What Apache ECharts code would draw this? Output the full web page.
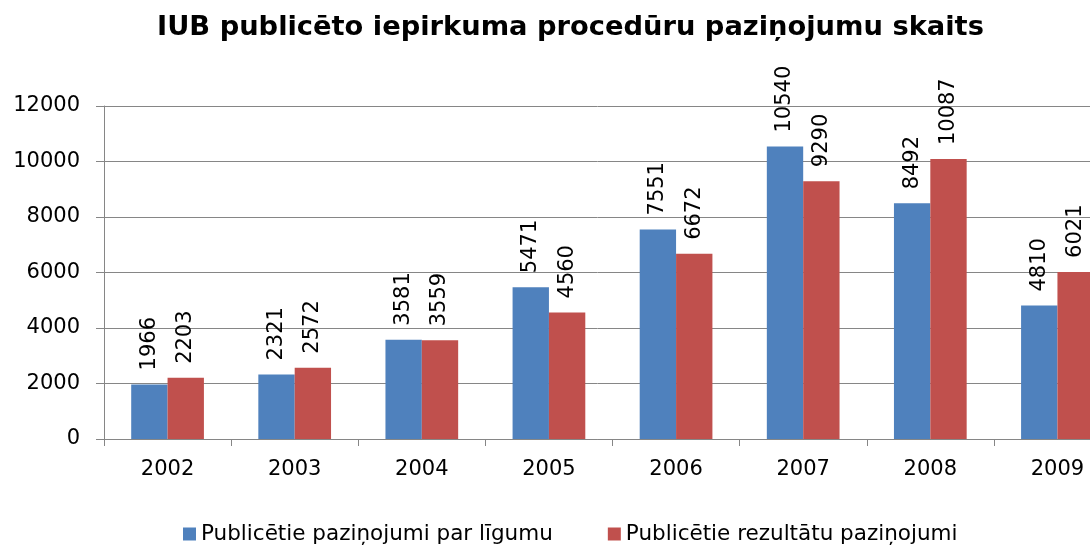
<!DOCTYPE html>
<html>
<head>
<meta charset="utf-8">
<script src="https://cdn.jsdelivr.net/npm/echarts@6/dist/echarts.min.js"></script>
<style>html,body{margin:0;padding:0;background:#fff}#c{width:1090px;height:550px}</style>
</head>
<body>
<div id="c"></div>
<script>
const titleText = 'IUB publicēto iepirkuma procedūru paziņojumu skaits';
const years = ['2002','2003','2004','2005','2006','2007','2008','2009'];
const seriesNames = ['Publicētie paziņojumi par līgumu','Publicētie rezultātu paziņojumi'];
const contractNotices = [1966, 2321, 3581, 5471, 7551, 10540, 8492, 4810];
const resultNotices = [2203, 2572, 3559, 4560, 6672, 9290, 10087, 6021];

const FONT = 'DejaVu Sans';
const chart = echarts.init(document.getElementById('c'), null, {renderer:'canvas'});
const lbl = {
  show: true, position: 'top', rotate: 90, distance: 14,
  align: 'left', verticalAlign: 'middle',
  fontFamily: FONT, fontSize: 21, color: '#000'
};
chart.setOption({
  animation: false,
  backgroundColor: '#fff',
  title: {
    text: titleText, left: 152, top: 9,
    textStyle: {fontFamily: FONT, fontWeight: 'bold', fontSize: 27.3, color: '#000'}
  },
  legend: {
    bottom: 0, left: 178, itemWidth: 13, itemHeight: 13, itemGap: 55,
    icon: 'rect',
    textStyle: {fontFamily: FONT, fontSize: 21.5, color: '#000'},
    data: seriesNames
  },
  grid: {left: 104, width: 1017, top: 106, height: 333, containLabel: false, outerBoundsMode: 'none'},
  xAxis: {
    type: 'category', data: years,
    axisLine: {lineStyle: {color: '#868686'}},
    axisTick: {show: true, length: 7, lineStyle: {color: '#868686'}},
    axisLabel: {margin: 20, fontFamily: FONT, fontSize: 21, color: '#000'}
  },
  yAxis: {
    type: 'value', min: 0, max: 12000, interval: 2000,
    axisLine: {show: true, lineStyle: {color: '#868686'}},
    axisTick: {show: true, length: 8, lineStyle: {color: '#868686'}},
    splitLine: {lineStyle: {color: '#868686', width: 1}},
    axisLabel: {margin: 24, fontFamily: FONT, fontSize: 21, color: '#000',
      formatter: v => String(v)}
  },
  series: [
    {name: seriesNames[0], type: 'bar', data: contractNotices, barGap: '0%', barCategoryGap: '42.8%',
     itemStyle: {color: '#4F81BD'}, label: lbl},
    {name: seriesNames[1], type: 'bar', data: resultNotices, barGap: '0%', barCategoryGap: '42.8%',
     itemStyle: {color: '#C0504D'}, label: lbl}
  ]
});
</script>
</body>
</html>
